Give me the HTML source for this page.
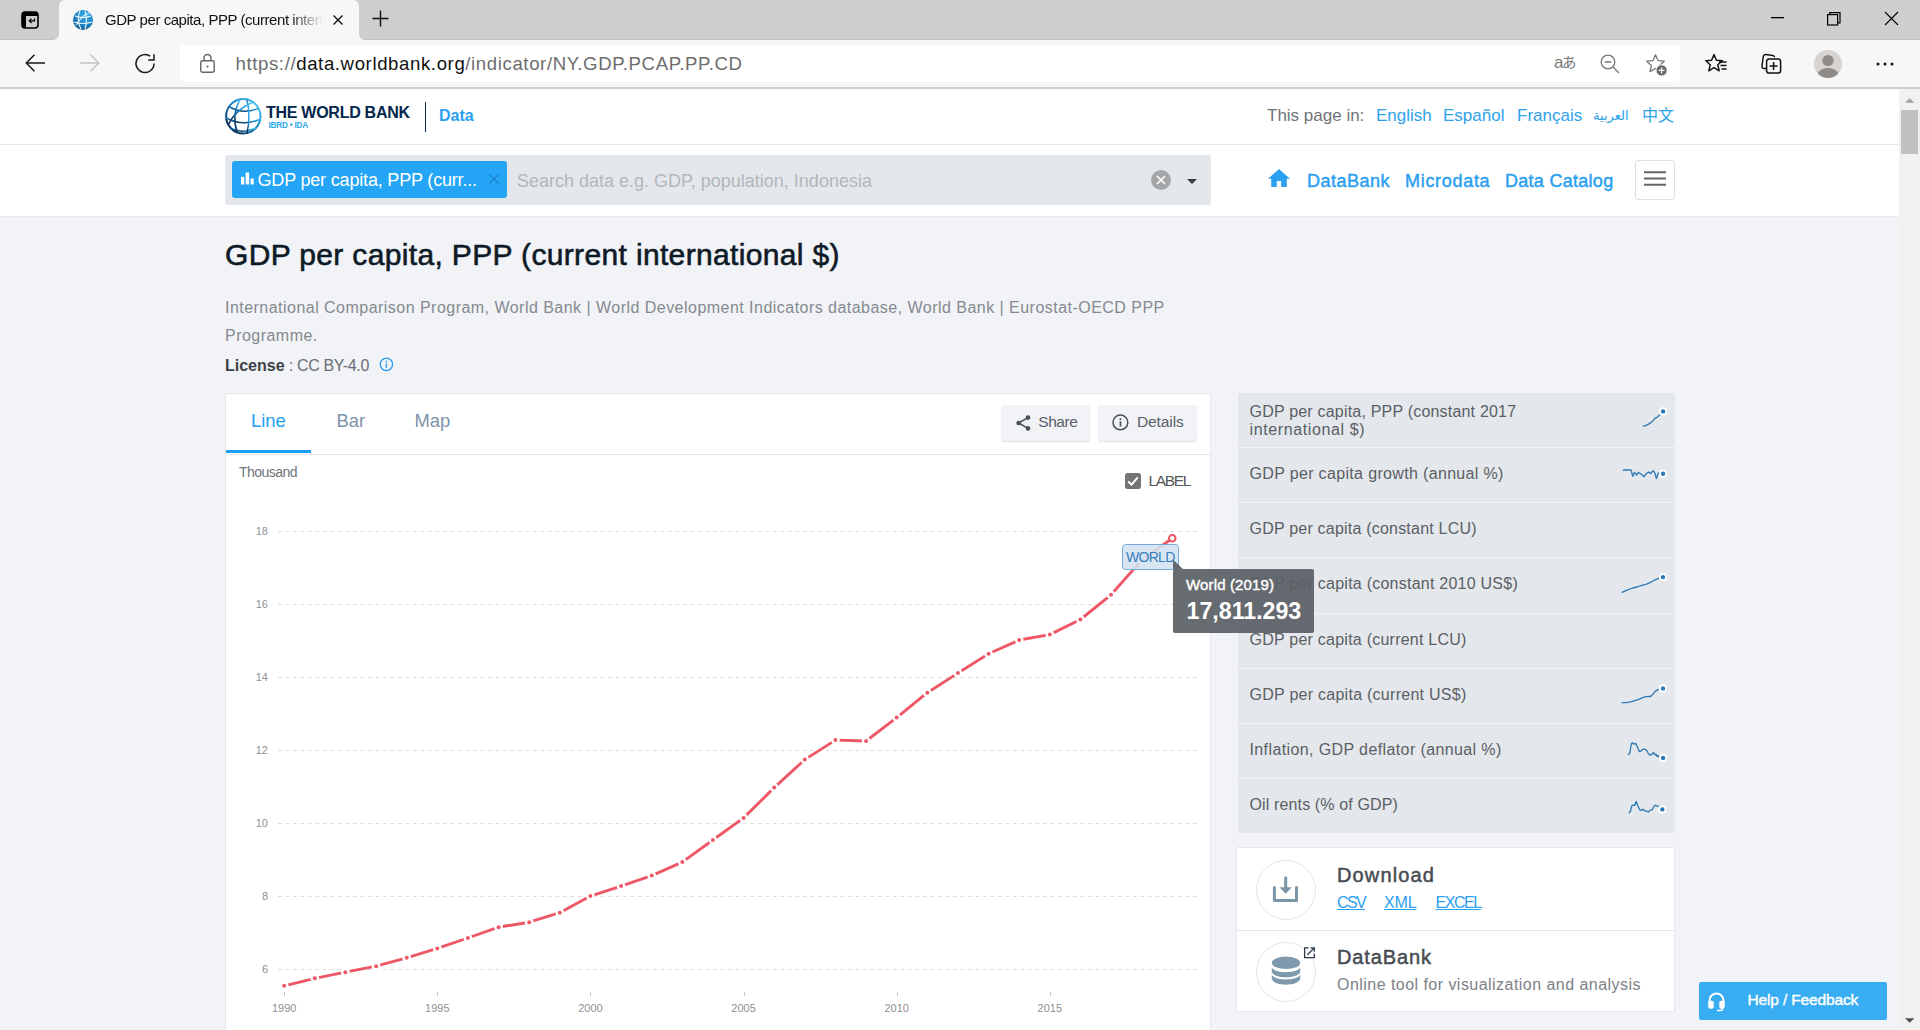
<!DOCTYPE html>
<html lang="en">
<head>
<meta charset="utf-8">
<title>GDP per capita, PPP (current international $) | Data</title>
<style>
html,body{margin:0;padding:0;}
body{width:1920px;height:1030px;overflow:hidden;position:relative;background:#f1f3f7;font-family:"Liberation Sans","Noto Sans CJK SC",sans-serif;color:#333;}
.abs{position:absolute;}
.t{position:absolute;white-space:nowrap;line-height:1;}
svg{position:absolute;overflow:visible;}
/* browser chrome */
#tabstrip{left:0;top:0;width:1920px;height:39px;background:#cecece;border-bottom:1px solid #c1c1c1;}
#tab{left:59px;top:0;width:300px;height:40px;background:#f7f7f7;border-radius:6px 6px 0 0;}
#toolbar{left:0;top:40px;width:1920px;height:47px;background:#f7f7f7;}
#tbline{left:0;top:87px;width:1920px;height:2px;background:#cdcdcd;}
#urlbox{left:180px;top:45px;width:1500px;height:37px;background:#fff;border-radius:5px;}
/* page */
#hdr1{left:0;top:89px;width:1899px;height:55px;background:#fff;}
#hdr1b{left:0;top:144px;width:1899px;height:1px;background:#e6e9ed;}
#hdr2{left:0;top:145px;width:1899px;height:71px;background:#fff;}
#hdr2b{left:0;top:216px;width:1899px;height:1px;background:#e6e9ed;}
#sbar{left:1899px;top:89px;width:21px;height:941px;background:#f1f1f1;}
#sthumb{left:1901px;top:110px;width:17px;height:44px;background:#c1c1c1;}
.blue{color:#2ea2ea;}
.si{font-size:16px;line-height:20px;color:#5a5f65;}
.lk{font-size:16px;line-height:22px;color:#2ba0f0;text-decoration:underline;}
</style>
</head>
<body>
<!-- ===== browser chrome ===== -->
<div class="abs" id="tabstrip"></div>
<div class="abs" id="tab"></div>
<div class="abs" id="toolbar"></div>
<div class="abs" id="tbline"></div>
<div class="abs" id="urlbox"></div>

<!-- tab curve corners -->
<svg style="left:53px;top:34px" width="6" height="6" viewBox="0 0 6 6"><path d="M6 0 V6 H0 A6 6 0 0 0 6 0Z" fill="#f7f7f7"/></svg>
<svg style="left:359px;top:34px" width="6" height="6" viewBox="0 0 6 6"><path d="M0 0 V6 H6 A6 6 0 0 1 0 0Z" fill="#f7f7f7"/></svg>
<!-- tab actions icon -->
<svg style="left:21px;top:11px" width="18" height="18" viewBox="0 0 18 18"><rect x="1" y="1" width="16" height="16" rx="3" fill="none" stroke="#000" stroke-width="1.6"/><path d="M1 4 a3 3 0 0 1 3 -3 h10 a3 3 0 0 1 3 3 v1 H1z" fill="#000"/><path d="M1 4 h4 v13 h-1 a3 3 0 0 1 -3 -3z" fill="#000"/><path d="M13.5 7.5 v2.3 h-5 M10.5 7.6 l-2.2 2.2 l2.2 2.2" fill="none" stroke="#000" stroke-width="1.3"/></svg>
<!-- favicon -->
<svg style="left:73px;top:10px" width="20" height="20" viewBox="0 0 20 20"><defs><radialGradient id="fg" cx="0.6" cy="0.3" r="0.8"><stop offset="0" stop-color="#3db4ee"/><stop offset="0.6" stop-color="#1b7fc0"/><stop offset="1" stop-color="#0b4d80"/></radialGradient></defs><circle cx="10" cy="10" r="10" fill="url(#fg)"/><g fill="none" stroke="#fff" stroke-width="1.1" opacity="0.9"><path d="M2 6 Q10 9 18 6"/><path d="M1 12 Q10 15 19 12"/><path d="M7 1 Q3 10 8 19"/><path d="M12 1 Q15 10 12 19"/><path d="M3 15 Q10 4 17 3"/></g></svg>
<div class="t" id="tabtitle" style="left:105px;top:10px;font-size:15px;color:#111;width:218px;overflow:hidden;line-height:20px;-webkit-mask-image:linear-gradient(90deg,#000 85%,transparent 100%);mask-image:linear-gradient(90deg,#000 85%,transparent 100%);letter-spacing:-0.45px">GDP per capita, PPP (current international $) | Data</div>
<svg style="left:333px;top:15px" width="10" height="10" viewBox="0 0 10 10"><path d="M0.5 0.5 L9.5 9.5 M9.5 0.5 L0.5 9.5" stroke="#111" stroke-width="1.4" fill="none"/></svg>
<svg style="left:372px;top:10.4px" width="17" height="17" viewBox="0 0 18 18"><path d="M9 0.5 V17.5 M0.5 9 H17.5" stroke="#111" stroke-width="1.5" fill="none"/></svg>
<!-- window controls -->
<svg style="left:1771px;top:17px" width="13" height="1"><rect width="13" height="1.3" fill="#000"/></svg>
<svg style="left:1827px;top:12px" width="14" height="14" viewBox="0 0 14 14"><rect x="0.6" y="2.6" width="10" height="10.4" fill="none" stroke="#000" stroke-width="1.2"/><path d="M2.8 2.6 V0.6 H13 V10.8 H10.6" fill="none" stroke="#000" stroke-width="1.2"/></svg>
<svg style="left:1885px;top:12px" width="13" height="13" viewBox="0 0 13 13"><path d="M0 0 L13 13 M13 0 L0 13" stroke="#000" stroke-width="1.1" fill="none"/></svg>
<!-- nav buttons -->
<svg style="left:25px;top:54px" width="20" height="18" viewBox="0 0 20 18"><path d="M20 9 H1.5 M9.5 0.8 L1.3 9 L9.5 17.2" fill="none" stroke="#1a1a1a" stroke-width="1.5"/></svg>
<svg style="left:80px;top:54px" width="20" height="18" viewBox="0 0 20 18"><path d="M0 9 H18.5 M10.5 0.8 L18.7 9 L10.5 17.2" fill="none" stroke="#c6c6c6" stroke-width="1.5"/></svg>
<svg style="left:135px;top:53px" width="21" height="21" viewBox="0 0 21 21"><path d="M19 10.5 A9 9 0 1 1 15.2 3.2" fill="none" stroke="#1a1a1a" stroke-width="1.5"/><path d="M19 1.2 V7 H13.2" fill="none" stroke="#1a1a1a" stroke-width="1.5"/></svg>
<!-- lock -->
<svg style="left:200px;top:54px" width="15" height="19" viewBox="0 0 15 19"><rect x="0.75" y="6.75" width="13.5" height="11.5" rx="2" fill="none" stroke="#666" stroke-width="1.4"/><path d="M4 6.5 V4 a3.5 3.5 0 0 1 7 0 V6.5" fill="none" stroke="#666" stroke-width="1.4"/><circle cx="7.5" cy="12.5" r="1.1" fill="#666"/></svg>
<div class="t" id="url" style="left:235.5px;top:53px;font-size:18.6px;line-height:22px;color:#6d6d6d;letter-spacing:0.61px">https://<span style="color:#111">data.worldbank.org</span>/indicator/NY.GDP.PCAP.PP.CD</div>
<!-- right icons -->
<div class="t" id="transl" style="left:1554px;top:54px;font-size:17px;line-height:18px;color:#767676;font-family:'Liberation Sans','Noto Sans CJK JP',sans-serif;letter-spacing:-1.5px">a<span style="font-size:14.5px">あ</span></div>
<svg style="left:1600px;top:54px" width="20" height="20" viewBox="0 0 20 20"><circle cx="8" cy="8" r="6.8" fill="none" stroke="#767676" stroke-width="1.3"/><path d="M4.8 8 H11.2 M13 13 L19 19" stroke="#767676" stroke-width="1.3" fill="none"/></svg>
<svg style="left:1645px;top:53px" width="24" height="24" viewBox="0 0 24 24"><path d="M10.5 1.8 L13 7.6 L19.3 8.2 L14.6 12.4 L16 18.6 L10.5 15.4 L5 18.6 L6.4 12.4 L1.7 8.2 L8 7.6 Z" fill="none" stroke="#767676" stroke-width="1.3" stroke-linejoin="round"/><circle cx="16.6" cy="17.4" r="5.6" fill="#666" stroke="#fff" stroke-width="1"/><path d="M16.6 14.4 V20.4 M13.6 17.4 H19.6" stroke="#fff" stroke-width="1.3"/></svg>
<svg style="left:1705px;top:53px" width="22" height="22" viewBox="0 0 22 22"><path d="M9 1.6 L11.4 7.2 L17.4 7.8 L12.8 11.8 L14.2 17.8 L9 14.6 L3.8 17.8 L5.2 11.8 L0.8 7.8 L6.6 7.2 Z" fill="none" stroke="#111" stroke-width="1.5" stroke-linejoin="round"/><path d="M14 9 H21.5 M15.5 12.5 H21.5 M16.5 16 H21.5" stroke="#111" stroke-width="1.4"/></svg>
<svg style="left:1760px;top:53px" width="22" height="22" viewBox="0 0 22 22"><path d="M6 15.5 H4.2 a2.2 2.2 0 0 1 -2.2 -2.6 l1.3 -9.4 a2.2 2.2 0 0 1 2.5 -1.9 l7 1 a2.2 2.2 0 0 1 1.8 1.6" fill="none" stroke="#111" stroke-width="1.5"/><rect x="6.6" y="6" width="14" height="14" rx="2.6" fill="#f7f7f7" stroke="#111" stroke-width="1.5"/><path d="M13.6 9 V17 M9.6 13 H17.6" stroke="#111" stroke-width="1.5"/></svg>
<svg style="left:1814px;top:50px" width="28" height="28" viewBox="0 0 28 28"><defs><clipPath id="pc"><circle cx="14" cy="14" r="14"/></clipPath></defs><circle cx="14" cy="14" r="14" fill="#d6d3d1"/><g clip-path="url(#pc)" fill="#8d8a88"><circle cx="14" cy="10.5" r="5.6"/><ellipse cx="14" cy="25" rx="10.5" ry="7"/></g></svg>
<svg style="left:1876px;top:62px" width="18" height="4" viewBox="0 0 18 4"><circle cx="2" cy="2" r="1.5" fill="#111"/><circle cx="9" cy="2" r="1.5" fill="#111"/><circle cx="16" cy="2" r="1.5" fill="#111"/></svg>
<!--CHROME-->

<!-- ===== page header ===== -->
<div class="abs" id="hdr1"></div>
<div class="abs" id="hdr1b"></div>
<div class="abs" id="hdr2"></div>
<div class="abs" id="hdr2b"></div>
<div class="abs" id="sbar"></div>
<div class="abs" id="sthumb"></div>

<!-- WB logo -->
<svg style="left:225px;top:98px" width="37" height="37" viewBox="0 0 37 37"><defs><linearGradient id="lg" x1="0.1" y1="0.9" x2="0.9" y2="0.1"><stop offset="0" stop-color="#06284f"/><stop offset="0.55" stop-color="#1b86c8"/><stop offset="1" stop-color="#45c1f5"/></linearGradient></defs><circle cx="18.3" cy="18.3" r="17.2" fill="#fff" stroke="url(#lg)" stroke-width="2"/><g fill="none" stroke="url(#lg)" stroke-width="1.5"><path d="M4 8.5 Q18 17 33 10.5"/><path d="M1.5 20 Q18 29 35.5 21"/><path d="M6 30.5 Q18 36 31 30"/><path d="M15 1.5 Q6 18 12.5 35"/><path d="M22 1.5 Q26 18 22 35.5"/><path d="M28 4 Q10 12 3 27"/></g></svg>
<div class="t" id="twb" style="left:266px;top:103.5px;font-size:16px;line-height:18px;font-weight:bold;color:#02264c;letter-spacing:-0.27px">THE WORLD BANK</div>
<div class="t" id="ibrd" style="left:268.5px;top:121px;font-size:8.2px;line-height:10px;font-weight:bold;color:#2ea8e8;letter-spacing:-0.2px">IBRD &#8226; IDA</div>
<div class="abs" style="left:425px;top:102px;width:1px;height:30px;background:#02264c"></div>
<div class="t" id="datal" style="left:439px;top:107.4px;font-size:16px;line-height:18px;font-weight:bold;color:#2ba0f0">Data</div>
<!-- languages -->
<div class="t" id="tpi" style="left:1267px;top:105px;font-size:17px;line-height:22px;color:#6f7478">This page in:</div>
<div class="t blue" id="l1" style="left:1376px;top:105px;font-size:17px;line-height:22px">English</div>
<div class="t blue" id="l2" style="left:1443px;top:105px;font-size:17px;line-height:22px">Español</div>
<div class="t blue" id="l3" style="left:1517px;top:105px;font-size:17px;line-height:22px">Français</div>
<div class="t blue" id="l4" style="left:1593px;top:105px;font-size:13px;line-height:22px;font-family:'DejaVu Sans','Liberation Sans',sans-serif" dir="rtl">العربية</div>
<div class="t blue" id="l5" style="left:1642px;top:105px;font-size:16px;line-height:22px">中文</div>
<!-- search -->
<div class="abs" id="sbox" style="left:225px;top:155px;width:986px;height:50px;background:#e4e7eb;border-radius:2px"></div>
<div class="abs" id="stag" style="left:232px;top:161px;width:275px;height:37px;background:#25a5f5;border-radius:3px"></div>
<svg style="left:241px;top:172px" width="13" height="13" viewBox="0 0 12 11"><rect x="0" y="4" width="3" height="7" fill="#fff"/><rect x="4.3" y="0" width="3.2" height="11" fill="#fff"/><rect x="8.8" y="5.5" width="3" height="5.5" fill="#fff"/></svg>
<div class="t" id="stagt" style="left:257.5px;top:168.5px;font-size:18px;line-height:22px;color:#fff;letter-spacing:-0.18px">GDP per capita, PPP (curr...</div>
<svg style="left:489px;top:174px" width="10" height="10" viewBox="0 0 10 10"><path d="M0.5 0.5 L9.5 9.5 M9.5 0.5 L0.5 9.5" stroke="#1b84cb" stroke-width="1.4" fill="none"/></svg>
<div class="t" id="sph" style="left:517px;top:170px;font-size:18px;line-height:22px;color:#b3b7bb">Search data e.g. GDP, population, Indonesia</div>
<svg style="left:1151px;top:170px" width="20" height="20" viewBox="0 0 20 20"><circle cx="10" cy="10" r="10" fill="#a4a6a8"/><path d="M6 6 L14 14 M14 6 L6 14" stroke="#fff" stroke-width="1.7" fill="none"/></svg>
<svg style="left:1187px;top:178.5px" width="10" height="5" viewBox="0 0 10 5"><path d="M0 0 H10 L5 5Z" fill="#3a3d40"/></svg>
<!-- nav -->
<svg style="left:1268px;top:169px" width="22" height="18" viewBox="0 0 22 18"><path d="M11 0 L0 9.8 H3.2 V18 H8.8 V12 H13.2 V18 H18.8 V9.8 H22 Z" fill="#2ba0f0"/></svg>
<div class="t" id="n1" style="margin-top:0.7px;left:1307px;top:169px;font-size:18px;line-height:22px;font-weight:normal;-webkit-text-stroke:0.45px #2ba0f0;letter-spacing:0.5px;color:#2ba0f0">DataBank</div>
<div class="t" id="n2" style="margin-top:0.7px;left:1405px;top:169px;font-size:18px;line-height:22px;font-weight:normal;-webkit-text-stroke:0.45px #2ba0f0;letter-spacing:0.7px;color:#2ba0f0">Microdata</div>
<div class="t" id="n3" style="margin-top:0.7px;left:1505px;top:169px;font-size:18px;line-height:22px;font-weight:normal;-webkit-text-stroke:0.45px #2ba0f0;letter-spacing:0.28px;color:#2ba0f0">Data Catalog</div>
<div class="abs" id="hamb" style="left:1635px;top:160px;width:38px;height:38px;border:1px solid #dcdfe3;border-radius:3px;background:#fff"></div>
<svg style="left:1644px;top:171px" width="22" height="15" viewBox="0 0 22 15"><path d="M0 1.2 H22 M0 7.5 H22 M0 13.8 H22" stroke="#666" stroke-width="2"/></svg>
<!-- scrollbar arrows -->
<svg style="left:1905px;top:98px" width="9.4" height="5" viewBox="0 0 10 5"><path d="M0 5 L5 0 L10 5Z" fill="#a3a3a3"/></svg>
<svg style="left:1905px;top:1018px" width="9.4" height="5" viewBox="0 0 10 5"><path d="M0 0 L5 5 L10 0Z" fill="#505050"/></svg>
<!--HEADER-->


<div class="t" id="title" style="left:225px;top:237.4px;font-size:30px;line-height:36px;color:#0e1b27;-webkit-text-stroke:0.6px #0e1b27;letter-spacing:0.35px">GDP per capita, PPP (current international $)</div>
<div class="t" id="src1" style="left:225px;top:297px;font-size:16px;line-height:22px;color:#858a8f;letter-spacing:0.47px">International Comparison Program, World Bank | World Development Indicators database, World Bank | Eurostat-OECD PPP</div>
<div class="t" id="src2" style="left:225px;top:325px;font-size:16px;line-height:22px;color:#858a8f;letter-spacing:0.47px">Programme.</div>
<div class="t" id="lic" style="left:225px;top:355px;font-size:16px;line-height:22px;color:#6a6e72;letter-spacing:-0.33px"><b style="color:#3c4146;letter-spacing:0">License</b> : CC BY-4.0</div>
<svg style="left:379px;top:357px" width="15" height="15" viewBox="0 0 15 15"><circle cx="7.4" cy="7.3" r="6.2" fill="none" stroke="#2ba0f0" stroke-width="1.3"/><rect x="6.7" y="6.3" width="1.4" height="4.6" fill="#2ba0f0"/><rect x="6.7" y="3.8" width="1.4" height="1.5" fill="#2ba0f0"/></svg>
<!--MAIN-->


<div class="abs" id="panel" style="left:225px;top:393px;width:984px;height:660px;background:#fff;border:1px solid #e3e7ec;border-radius:2px"></div>
<div class="t" id="tb1" style="left:251px;top:409px;font-size:18.4px;line-height:24px;color:#219ff2">Line</div>
<div class="t" id="tb2" style="left:336.5px;top:409px;font-size:18.4px;line-height:24px;color:#7b93a8">Bar</div>
<div class="t" id="tb3" style="left:414.5px;top:409px;font-size:18.4px;line-height:24px;color:#7b93a8">Map</div>
<div class="abs" style="left:226px;top:450px;width:85px;height:3px;background:#1f9ff3"></div>
<div class="abs" style="left:226px;top:454px;width:984px;height:1px;background:#e3e7ec"></div>
<div class="abs" id="bshare" style="left:1001px;top:405px;width:89px;height:36px;background:#f1f3f7;border-radius:3px;box-shadow:0 1px 1px #dfe2e6"></div>
<svg style="left:1016px;top:415px" width="15" height="16" viewBox="0 0 15 16"><path d="M12 2.6 L2.6 8 L12 13.4" fill="none" stroke="#4a5057" stroke-width="1.6"/><circle cx="12" cy="2.6" r="2.3" fill="#4a5057"/><circle cx="2.6" cy="8" r="2.3" fill="#4a5057"/><circle cx="12" cy="13.4" r="2.3" fill="#4a5057"/></svg>
<div class="t" id="tshare" style="left:1038.3px;top:412px;font-size:15.5px;line-height:20px;color:#5a6067;letter-spacing:-0.45px">Share</div>
<div class="abs" id="bdet" style="left:1098px;top:405px;width:99px;height:36px;background:#f1f3f7;border-radius:3px;box-shadow:0 1px 1px #dfe2e6"></div>
<svg style="left:1112px;top:414px" width="17" height="17" viewBox="0 0 17 17"><circle cx="8.4" cy="8.4" r="7.4" fill="none" stroke="#4a5057" stroke-width="1.5"/><rect x="7.6" y="7.3" width="1.7" height="5.2" fill="#4a5057"/><rect x="7.6" y="4.3" width="1.7" height="1.8" fill="#4a5057"/></svg>
<div class="t" id="tdet" style="left:1137px;top:412px;font-size:15.5px;line-height:20px;color:#5a6067;letter-spacing:-0.11px">Details</div>
<div class="t" id="thou" style="left:239px;top:464px;font-size:14px;line-height:16px;color:#70757a;letter-spacing:-0.52px">Thousand</div>
<div class="abs" style="left:1125px;top:473px;width:16px;height:16px;background:#757575;border-radius:2.5px"></div>
<svg style="left:1125px;top:473px" width="16" height="16" viewBox="0 0 16 16"><path d="M3.2 8.4 L6.6 11.6 L12.8 4.4" fill="none" stroke="#fff" stroke-width="2"/></svg>
<div class="t" id="tlabel" style="left:1148.4px;top:471.3px;font-size:15.5px;line-height:20px;color:#555;letter-spacing:-1.3px">LABEL</div>
<svg id="chartsvg" style="left:0;top:0" width="1920" height="1030" viewBox="0 0 1920 1030" font-family="Liberation Sans, sans-serif">
<line x1="278" y1="531.5" x2="1197" y2="531.5" stroke="#dcdcdc" stroke-width="1" stroke-dasharray="3.75 3.75"/><text x="268" y="534.5" text-anchor="end" font-size="11" fill="#8e9194">18</text><line x1="278" y1="604.5" x2="1197" y2="604.5" stroke="#dcdcdc" stroke-width="1" stroke-dasharray="3.75 3.75"/><text x="268" y="607.5" text-anchor="end" font-size="11" fill="#8e9194">16</text><line x1="278" y1="677.5" x2="1197" y2="677.5" stroke="#dcdcdc" stroke-width="1" stroke-dasharray="3.75 3.75"/><text x="268" y="680.5" text-anchor="end" font-size="11" fill="#8e9194">14</text><line x1="278" y1="750.5" x2="1197" y2="750.5" stroke="#dcdcdc" stroke-width="1" stroke-dasharray="3.75 3.75"/><text x="268" y="753.5" text-anchor="end" font-size="11" fill="#8e9194">12</text><line x1="278" y1="823.5" x2="1197" y2="823.5" stroke="#dcdcdc" stroke-width="1" stroke-dasharray="3.75 3.75"/><text x="268" y="826.5" text-anchor="end" font-size="11" fill="#8e9194">10</text><line x1="278" y1="896.5" x2="1197" y2="896.5" stroke="#dcdcdc" stroke-width="1" stroke-dasharray="3.75 3.75"/><text x="268" y="899.5" text-anchor="end" font-size="11" fill="#8e9194">8</text><line x1="278" y1="969.5" x2="1197" y2="969.5" stroke="#dcdcdc" stroke-width="1" stroke-dasharray="3.75 3.75"/><text x="268" y="972.5" text-anchor="end" font-size="11" fill="#8e9194">6</text>
<line x1="284.5" y1="992" x2="284.5" y2="996" stroke="#c8c8c8" stroke-width="1"/><text x="284.2" y="1012" text-anchor="middle" font-size="11" fill="#8e9194">1990</text><line x1="437.5" y1="992" x2="437.5" y2="996" stroke="#c8c8c8" stroke-width="1"/><text x="437.3" y="1012" text-anchor="middle" font-size="11" fill="#8e9194">1995</text><line x1="590.5" y1="992" x2="590.5" y2="996" stroke="#c8c8c8" stroke-width="1"/><text x="590.4" y="1012" text-anchor="middle" font-size="11" fill="#8e9194">2000</text><line x1="744.5" y1="992" x2="744.5" y2="996" stroke="#c8c8c8" stroke-width="1"/><text x="743.6" y="1012" text-anchor="middle" font-size="11" fill="#8e9194">2005</text><line x1="897.5" y1="992" x2="897.5" y2="996" stroke="#c8c8c8" stroke-width="1"/><text x="896.7" y="1012" text-anchor="middle" font-size="11" fill="#8e9194">2010</text><line x1="1050.5" y1="992" x2="1050.5" y2="996" stroke="#c8c8c8" stroke-width="1"/><text x="1049.8" y="1012" text-anchor="middle" font-size="11" fill="#8e9194">2015</text>
<path d="M284.2 985.8 L314.8 978.3 L345.4 972.2 L376.1 966.2 L406.7 957.8 L437.3 948.4 L467.9 938.0 L498.6 927.2 L529.2 922.2 L559.8 912.7 L590.4 896.1 L621.1 886.1 L651.7 875.6 L682.3 862.1 L712.9 840.0 L743.6 817.9 L774.2 787.6 L804.8 759.6 L835.4 740.1 L866.1 741.0 L896.7 717.6 L927.3 692.7 L957.9 673.1 L988.6 653.8 L1019.2 640.0 L1049.8 634.6 L1080.4 619.5 L1111.0 594.8 L1141.7 560.1 L1172.3 538.2" fill="none" stroke="#ee5866" stroke-width="2.9" stroke-linejoin="round" stroke-linecap="round"/>
<circle cx="284.2" cy="985.8" r="4.4" fill="#fff"/><circle cx="314.8" cy="978.3" r="4.4" fill="#fff"/><circle cx="345.4" cy="972.2" r="4.4" fill="#fff"/><circle cx="376.1" cy="966.2" r="4.4" fill="#fff"/><circle cx="406.7" cy="957.8" r="4.4" fill="#fff"/><circle cx="437.3" cy="948.4" r="4.4" fill="#fff"/><circle cx="467.9" cy="938.0" r="4.4" fill="#fff"/><circle cx="498.6" cy="927.2" r="4.4" fill="#fff"/><circle cx="529.2" cy="922.2" r="4.4" fill="#fff"/><circle cx="559.8" cy="912.7" r="4.4" fill="#fff"/><circle cx="590.4" cy="896.1" r="4.4" fill="#fff"/><circle cx="621.1" cy="886.1" r="4.4" fill="#fff"/><circle cx="651.7" cy="875.6" r="4.4" fill="#fff"/><circle cx="682.3" cy="862.1" r="4.4" fill="#fff"/><circle cx="712.9" cy="840.0" r="4.4" fill="#fff"/><circle cx="743.6" cy="817.9" r="4.4" fill="#fff"/><circle cx="774.2" cy="787.6" r="4.4" fill="#fff"/><circle cx="804.8" cy="759.6" r="4.4" fill="#fff"/><circle cx="835.4" cy="740.1" r="4.4" fill="#fff"/><circle cx="866.1" cy="741.0" r="4.4" fill="#fff"/><circle cx="896.7" cy="717.6" r="4.4" fill="#fff"/><circle cx="927.3" cy="692.7" r="4.4" fill="#fff"/><circle cx="957.9" cy="673.1" r="4.4" fill="#fff"/><circle cx="988.6" cy="653.8" r="4.4" fill="#fff"/><circle cx="1019.2" cy="640.0" r="4.4" fill="#fff"/><circle cx="1049.8" cy="634.6" r="4.4" fill="#fff"/><circle cx="1080.4" cy="619.5" r="4.4" fill="#fff"/><circle cx="1111.0" cy="594.8" r="4.4" fill="#fff"/><circle cx="1141.7" cy="560.1" r="4.4" fill="#fff"/>
<circle cx="284.2" cy="985.8" r="2" fill="#ee5866"/><circle cx="314.8" cy="978.3" r="2" fill="#ee5866"/><circle cx="345.4" cy="972.2" r="2" fill="#ee5866"/><circle cx="376.1" cy="966.2" r="2" fill="#ee5866"/><circle cx="406.7" cy="957.8" r="2" fill="#ee5866"/><circle cx="437.3" cy="948.4" r="2" fill="#ee5866"/><circle cx="467.9" cy="938.0" r="2" fill="#ee5866"/><circle cx="498.6" cy="927.2" r="2" fill="#ee5866"/><circle cx="529.2" cy="922.2" r="2" fill="#ee5866"/><circle cx="559.8" cy="912.7" r="2" fill="#ee5866"/><circle cx="590.4" cy="896.1" r="2" fill="#ee5866"/><circle cx="621.1" cy="886.1" r="2" fill="#ee5866"/><circle cx="651.7" cy="875.6" r="2" fill="#ee5866"/><circle cx="682.3" cy="862.1" r="2" fill="#ee5866"/><circle cx="712.9" cy="840.0" r="2" fill="#ee5866"/><circle cx="743.6" cy="817.9" r="2" fill="#ee5866"/><circle cx="774.2" cy="787.6" r="2" fill="#ee5866"/><circle cx="804.8" cy="759.6" r="2" fill="#ee5866"/><circle cx="835.4" cy="740.1" r="2" fill="#ee5866"/><circle cx="866.1" cy="741.0" r="2" fill="#ee5866"/><circle cx="896.7" cy="717.6" r="2" fill="#ee5866"/><circle cx="927.3" cy="692.7" r="2" fill="#ee5866"/><circle cx="957.9" cy="673.1" r="2" fill="#ee5866"/><circle cx="988.6" cy="653.8" r="2" fill="#ee5866"/><circle cx="1019.2" cy="640.0" r="2" fill="#ee5866"/><circle cx="1049.8" cy="634.6" r="2" fill="#ee5866"/><circle cx="1080.4" cy="619.5" r="2" fill="#ee5866"/><circle cx="1111.0" cy="594.8" r="2" fill="#ee5866"/><circle cx="1141.7" cy="560.1" r="2" fill="#ee5866"/>
<circle cx="1172.3" cy="538.2" r="3.25" fill="#fff" stroke="#ee5866" stroke-width="2.1"/>
</svg>
<!-- WORLD label -->
<div class="abs" id="wlabel" style="left:1122px;top:544px;width:55px;height:24px;background:rgba(210,226,240,0.88);border:1px solid #76abd9;border-radius:3.5px"></div>
<div class="t" id="wtext" style="left:1126px;top:548.4px;font-size:14px;line-height:18px;color:#3a7fbd;letter-spacing:-0.7px">WORLD</div>
<!--CHART-->

<div class="abs" id="slist" style="left:1238px;top:393px;width:437px;height:440px;background:#e4e7eb;border-radius:2px"></div>
<div class="abs" style="left:1238px;top:447px;width:437px;height:1px;background:#f1f3f7"></div>
<div class="abs" style="left:1238px;top:502px;width:437px;height:1px;background:#f1f3f7"></div>
<div class="abs" style="left:1238px;top:557px;width:437px;height:1px;background:#f1f3f7"></div>
<div class="abs" style="left:1238px;top:612.5px;width:437px;height:1px;background:#f1f3f7"></div>
<div class="abs" style="left:1238px;top:668px;width:437px;height:1px;background:#f1f3f7"></div>
<div class="abs" style="left:1238px;top:723px;width:437px;height:1px;background:#f1f3f7"></div>
<div class="abs" style="left:1238px;top:778px;width:437px;height:1px;background:#f1f3f7"></div>
<div class="t si" id="si0a" style="letter-spacing:0.200px;left:1249.5px;top:401.6px">GDP per capita, PPP (constant 2017</div>
<div class="t si" id="si0b" style="letter-spacing:0.620px;left:1249.5px;top:420.4px">international $)</div>
<div class="t si" id="si1" style="letter-spacing:0.340px;left:1249.5px;top:464.1px">GDP per capita growth (annual %)</div>
<div class="t si" id="si2" style="letter-spacing:0.210px;left:1249.5px;top:519.1px">GDP per capita (constant LCU)</div>
<div class="t si" id="si3" style="letter-spacing:0.240px;left:1249.5px;top:574.1px">GDP per capita (constant 2010 US$)</div>
<div class="t si" id="si4" style="letter-spacing:0.240px;left:1249.5px;top:630.4px">GDP per capita (current LCU)</div>
<div class="t si" id="si5" style="letter-spacing:0.265px;left:1249.5px;top:685.4px">GDP per capita (current US$)</div>
<div class="t si" id="si6" style="letter-spacing:0.390px;left:1249.5px;top:740.4px">Inflation, GDP deflator (annual %)</div>
<div class="t si" id="si7" style="letter-spacing:0.135px;left:1249.5px;top:795.4px">Oil rents (% of GDP)</div>
<svg id="sparks" style="left:0;top:0" width="1920" height="1030" viewBox="0 0 1920 1030"><g fill="none" stroke="#2a78b5" stroke-width="1.3" stroke-linejoin="round" stroke-linecap="round"><path d="M1643.3 426.2 L1645.5 425.6 L1648 424.4 L1651 422.6 L1653 420.8 L1655 418.4 L1657.5 417 L1660 414.6 L1663.1 411.4"/><path d="M1623.2 470.3 L1625 469.7 L1626.5 470.3 L1628 469.6 L1629.5 470.2 L1631 469.8 L1632.8 476.3 L1634.5 472.3 L1636.5 475 L1638.5 472.5 L1641 474 L1644.1 476.7 L1646.5 473.5 L1648.5 472 L1650.5 473.5 L1653.3 470.6 L1654.8 473 L1656.4 478.5 L1658.4 472.8 L1663.1 473.8"/><path d="M1622.2 592.3 L1627 590.2 L1632.6 588 L1637 587 L1641 585.7 L1646.6 584.1 L1650 582.6 L1654.4 580.2 L1658 578.6 L1663 577.1"/><path d="M1622.2 702.7 L1626 702.7 L1629.5 702.2 L1634 700.9 L1638.9 699.4 L1642 697.8 L1645.1 696.8 L1648 696.4 L1650.5 696.5 L1652.5 694.6 L1655.2 691.4 L1658 689.6 L1663 688.4"/><path d="M1628.4 754.6 L1629.8 753 L1631.4 743.7 L1632.4 742.6 L1633.7 744.2 L1635.6 743.4 L1637.2 746.4 L1639.4 751.7 L1641.5 750.6 L1643.6 749 L1646.3 749.8 L1648.5 753.8 L1650.6 755.4 L1652.2 753.8 L1653.6 752.6 L1654.9 754.9 L1655.9 754.1 L1657 756.5 L1658.1 755.4 L1658.9 757 L1663.1 757.9"/><path d="M1629.2 812.8 L1630.5 811 L1631.9 805.6 L1633.5 805.1 L1634.8 805.3 L1636.2 801.4 L1638 806.2 L1639.9 809.9 L1641.5 810.4 L1642.9 809.2 L1644.7 810.7 L1646.8 811.3 L1648.4 812 L1650 810.4 L1652.2 809.6 L1653.8 806.7 L1655.1 805.1 L1657 806.2 L1658.6 806.2 L1662.3 809.4"/></g><circle cx="1663.1" cy="411.4" r="3.15" fill="#2a78b5" stroke="#fff" stroke-width="1.9"/><circle cx="1663.1" cy="473.8" r="3.15" fill="#2a78b5" stroke="#fff" stroke-width="1.9"/><circle cx="1663.0" cy="577.1" r="3.15" fill="#2a78b5" stroke="#fff" stroke-width="1.9"/><circle cx="1663.0" cy="688.4" r="3.15" fill="#2a78b5" stroke="#fff" stroke-width="1.9"/><circle cx="1663.1" cy="757.9" r="3.15" fill="#2a78b5" stroke="#fff" stroke-width="1.9"/><circle cx="1662.3" cy="809.4" r="3.15" fill="#2a78b5" stroke="#fff" stroke-width="1.9"/></svg>

<div class="abs" id="dcard" style="left:1236px;top:847px;width:437px;height:163px;background:#fff;border:1px solid #e3e7ec;border-radius:2px"></div>
<div class="abs" style="left:1237px;top:930px;width:437px;height:1px;background:#e3e7ec"></div>
<div class="abs" style="left:1256px;top:860px;width:58px;height:58px;border:1px solid #e1e6ea;border-radius:50%"></div>
<div class="abs" style="left:1256px;top:942px;width:58px;height:58px;border:1px solid #e1e6ea;border-radius:50%"></div>
<svg style="left:1272px;top:876px" width="28" height="28" viewBox="1272 876 28 28"><path d="M1274.4 887.6 V900.4 H1296.5 V887.6" fill="none" stroke="#7b96a9" stroke-width="3" stroke-linejoin="round" stroke-linecap="round"/><rect x="1284.2" y="876.6" width="3" height="11.5" fill="#7b96a9"/><path d="M1279.5 887.2 H1291.9 L1285.7 893.7Z" fill="#7b96a9"/></svg>
<svg style="left:1271px;top:956px" width="30" height="30" viewBox="1271 956 30 30"><g fill="#7d99ab"><ellipse cx="1286" cy="962.8" rx="14.2" ry="6.2"/><path d="M1271.8 967.2 C1274 973.8 1298 973.8 1300.2 967.2 V972 C1298 979 1274 979 1271.8 972Z"/><path d="M1271.8 974.6 C1274 981.2 1298 981.2 1300.2 974.6 V979 C1298 986.6 1274 986.6 1271.8 979Z"/></g></svg>
<svg style="left:1303px;top:946px" width="13" height="13" viewBox="0 0 13 13"><rect x="0.5" y="0.8" width="12" height="12" fill="#fff"/><path d="M5.6 1.9 H1.6 V11.6 H11.3 V7.6" fill="none" stroke="#2c3b4a" stroke-width="1.3"/><path d="M7.4 1.9 H11.3 V5.8 M11.3 1.9 L4.4 8.8" fill="none" stroke="#2c3b4a" stroke-width="1.3"/></svg>
<div class="t" id="dl" style="left:1337px;top:862px;font-size:20px;line-height:26px;font-weight:normal;-webkit-text-stroke:0.5px #474c52;letter-spacing:1.13px;color:#474c52">Download</div>
<div class="t lk" id="csv" style="letter-spacing:-1.6px;left:1337px;top:892px">CSV</div>
<div class="t lk" id="xml" style="letter-spacing:-0.13px;left:1384px;top:892px">XML</div>
<div class="t lk" id="xls" style="letter-spacing:-1.46px;left:1435.5px;top:892px">EXCEL</div>
<div class="t" id="db" style="left:1337px;top:944px;font-size:20px;line-height:26px;font-weight:normal;-webkit-text-stroke:0.5px #474c52;letter-spacing:0.87px;color:#474c52">DataBank</div>
<div class="t" id="dbd" style="letter-spacing:0.46px;left:1337px;top:973.7px;font-size:16px;line-height:22px;color:#7c8186">Online tool for visualization and analysis</div>
<div class="abs" id="help" style="left:1699px;top:982px;width:188px;height:38px;background:#38adf2;border-radius:2px"></div>
<svg style="left:1708px;top:992px" width="17" height="19" viewBox="0 0 17 19"><path d="M1.5 12 V8.5 a7 7 0 0 1 14 0 V12" fill="none" stroke="#fff" stroke-width="2"/><rect x="0.3" y="8.8" width="5.4" height="8" rx="1.8" fill="#fff"/><rect x="11.3" y="8.8" width="5.4" height="8" rx="1.8" fill="#fff"/><path d="M14.5 15.5 V17 a1.5 1.5 0 0 1 -1.5 1.5 H9" fill="none" stroke="#fff" stroke-width="1.4"/></svg>
<div class="t" id="helpt" style="left:1747.5px;top:989.3px;font-size:15.5px;line-height:22px;color:#fff;-webkit-text-stroke:0.4px #fff;letter-spacing:-0.15px">Help / Feedback</div>
<!-- tooltip -->
<svg style="left:1173px;top:559px" width="10" height="10" viewBox="0 0 10 10"><path d="M0 0.4 L10 10 H0Z" fill="rgba(90,95,101,0.92)"/></svg>
<div class="abs" id="tip" style="left:1173px;top:569px;width:141px;height:64px;background:rgba(90,95,101,0.92);border-radius:2px"></div>
<div class="t" id="tip1" style="left:1186px;top:576px;font-size:15px;line-height:18px;color:#fff;font-weight:normal;-webkit-text-stroke:0.4px #fff;letter-spacing:0.15px">World (2019)</div>
<div class="t" id="tip2" style="left:1186.5px;top:597px;font-size:23.2px;line-height:28px;color:#fff;font-weight:bold">17,811.293</div>
<!--SIDE-->

</body>
</html>
